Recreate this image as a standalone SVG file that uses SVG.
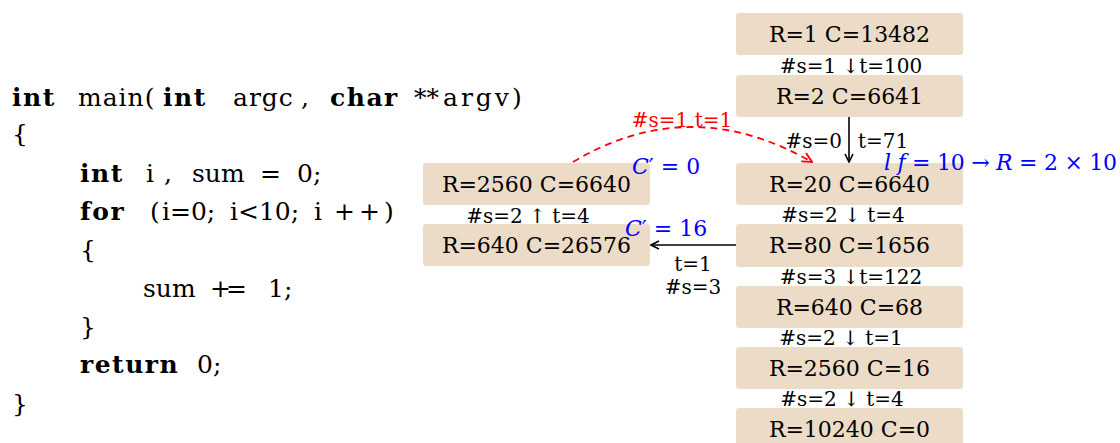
<svg xmlns="http://www.w3.org/2000/svg" width="1120" height="443" viewBox="0 0 1120 443">
<style>
.code{font-family:"DejaVu Serif","Liberation Serif",serif;font-size:25px;fill:#000}
.kw{font-weight:bold;letter-spacing:1.5px}
.box{fill:#ecdbc7}
.bl{font-family:"DejaVu Serif","Liberation Serif",serif;font-size:22px;fill:#000;text-anchor:middle}
.lb{font-family:"DejaVu Serif","Liberation Serif",serif;font-size:20px;fill:#000}
.blue{font-family:"DejaVu Serif","Liberation Serif",serif;font-size:22px;fill:#0000ff}
.it{font-style:italic}
.red{font-family:"DejaVu Serif","Liberation Serif",serif;font-size:20px;fill:#ff0000}
.arr{stroke:#000;stroke-width:1.6;fill:none}
</style>
<defs>
<marker id="ah" viewBox="0 0 10 10" refX="9" refY="5" markerWidth="10" markerHeight="10" markerUnits="userSpaceOnUse" orient="auto">
<path d="M1,1 L9,5 L1,9" fill="none" stroke="#000" stroke-width="1.6"/>
</marker>
<marker id="ahr" viewBox="0 0 10 10" refX="9" refY="5" markerWidth="12" markerHeight="12" markerUnits="userSpaceOnUse" orient="auto">
<path d="M1,1 L9,5 L1,9" fill="none" stroke="#ff0000" stroke-width="1.6"/>
</marker>
</defs>

<g id="code">
<text class="code" y="106"><tspan x="12" class="kw">int</tspan><tspan x="78" letter-spacing="1">main(</tspan><tspan x="163" class="kw">int</tspan><tspan x="233" letter-spacing="1">argc</tspan><tspan x="301">,</tspan><tspan x="330" class="kw">char</tspan><tspan x="414">**</tspan><tspan x="443" letter-spacing="3">argv)</tspan></text>
<text class="code" x="12" y="142">{</text>
<text class="code" y="182"><tspan x="80" class="kw">int</tspan><tspan x="146">i</tspan><tspan x="164">,</tspan><tspan x="192">sum</tspan><tspan x="260">=</tspan><tspan x="297">0;</tspan></text>
<text class="code" y="220"><tspan x="80" class="kw">for</tspan><tspan x="150">(</tspan><tspan x="162">i=0;</tspan><tspan x="230">i&lt;10;</tspan><tspan x="314">i</tspan><tspan x="334" letter-spacing="4">++)</tspan></text>
<text class="code" x="80" y="258">{</text>
<text class="code" y="297"><tspan x="143">sum</tspan><tspan x="210" letter-spacing="-5">+=</tspan><tspan x="268">1;</tspan></text>
<text class="code" x="80" y="335">}</text>
<text class="code" y="373"><tspan x="80" class="kw" letter-spacing="0">return</tspan><tspan x="197">0;</tspan></text>
<text class="code" x="12" y="412">}</text>
</g>

<g id="n1"><rect class="box" x="736" y="13" width="227" height="42" rx="3"/><text class="bl" x="849.5" y="42">R=1 C=13482</text></g>
<g id="n2"><rect class="box" x="736" y="75" width="227" height="42" rx="3"/><text class="bl" x="849.5" y="104">R=2 C=6641</text></g>
<g id="n3"><rect class="box" x="736" y="163" width="227" height="42" rx="3"/><text class="bl" x="849.5" y="192">R=20 C=6640</text></g>
<g id="n4"><rect class="box" x="736" y="224" width="227" height="43" rx="3"/><text class="bl" x="849.5" y="253">R=80 C=1656</text></g>
<g id="n5"><rect class="box" x="736" y="286" width="227" height="42" rx="3"/><text class="bl" x="849.5" y="315">R=640 C=68</text></g>
<g id="n6"><rect class="box" x="736" y="347" width="227" height="42" rx="3"/><text class="bl" x="849.5" y="376">R=2560 C=16</text></g>
<g id="n7"><rect class="box" x="736" y="408" width="227" height="42" rx="3"/><text class="bl" x="849.5" y="437">R=10240 C=0</text></g>
<g id="n8"><rect class="box" x="423" y="163" width="227" height="42" rx="3"/><text class="bl" x="536.5" y="192">R=2560 C=6640</text></g>
<g id="n9"><rect class="box" x="423" y="224" width="227" height="42" rx="3"/><text class="bl" x="536.5" y="253">R=640 C=26576</text></g>

<g id="connectors">
<line class="arr" x1="849" y1="117" x2="849" y2="162" marker-end="url(#ah)"/>
<line class="arr" x1="736" y1="245" x2="651" y2="245" marker-end="url(#ah)"/>
<path d="M573,162 Q690,92 812,162" fill="none" stroke="#ff0000" stroke-width="1.8" stroke-dasharray="7,5" marker-end="url(#ahr)"/>
</g>

<g id="labels">
<text class="lb" x="851" y="73" text-anchor="middle">#s=1 ↓t=100</text>
<text class="lb" x="842" y="148" text-anchor="end">#s=0</text>
<text class="lb" x="858" y="148">t=71</text>
<text class="lb" x="843" y="222" text-anchor="middle">#s=2 ↓ t=4</text>
<text class="lb" x="851" y="284" text-anchor="middle">#s=3 ↓t=122</text>
<text class="lb" x="841" y="345" text-anchor="middle">#s=2 ↓ t=1</text>
<text class="lb" x="842" y="406" text-anchor="middle">#s=2 ↓ t=4</text>
<text class="lb" x="528" y="223" text-anchor="middle">#s=2 ↑ t=4</text>
<text class="lb" x="693" y="271" text-anchor="middle">t=1</text>
<text class="lb" x="693" y="294" text-anchor="middle">#s=3</text>
<text class="red" x="682" y="127" text-anchor="middle">#s=1 t=1</text>
<text class="blue" x="632" y="174"><tspan class="it">C</tspan>′ = 0</text>
<text class="blue" x="625" y="236"><tspan class="it">C</tspan>′ = 16</text>
<text class="blue" x="884" y="170" textLength="233"><tspan class="it">l f</tspan> = 10 → <tspan class="it">R</tspan> = 2 × 10</text>
</g>
</svg>
